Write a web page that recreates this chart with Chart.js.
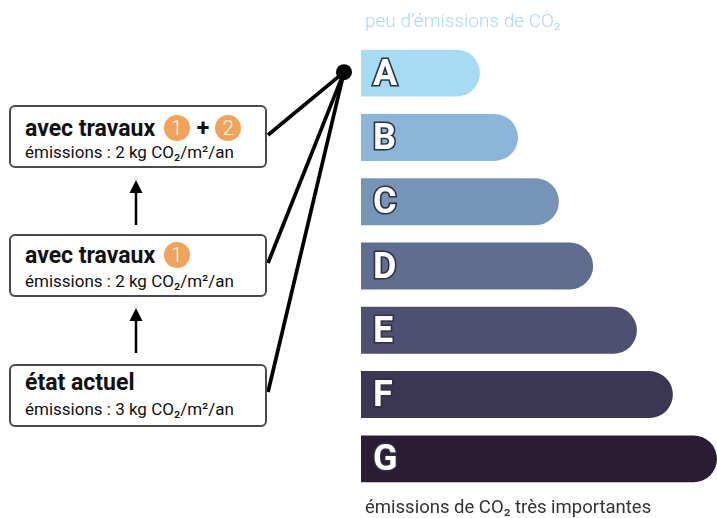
<!DOCTYPE html>
<html lang="fr">
<head>
<meta charset="utf-8">
<script src="https://cdn.jsdelivr.net/npm/chart.js@4/dist/chart.umd.min.js"></script>
<style>
  html, body { margin: 0; padding: 0; background: #fff; }
  #wrap { position: relative; width: 717px; height: 518px; overflow: hidden; font-family: Roboto, "Noto Sans", sans-serif; }
  #wrap canvas { position: absolute; left: 0; top: 0; }
  .box { position: absolute; left: 9px; width: 254px; height: 59px; border: 2px solid #4a4a4a; border-radius: 6px; background: #fff; }
  .t { position: absolute; left: 25px; white-space: nowrap; color: #111; }
  .title { font-size: 23px; line-height: 23px; font-weight: 700; }
  .sub { font-size: 17px; line-height: 17px; font-weight: 400; }
  .num { display: inline-block; width: 26px; height: 26px; border-radius: 50%; background: #f2a35a; color: #fff; font-weight: 300; font-size: 20px; line-height: 26px; text-align: center; vertical-align: 1px; margin-left: 3px; }
  .plus { display: inline-block; margin: 0 3px 0 7px; }
  .cap { position: absolute; left: 365px; white-space: nowrap; line-height: 20px; }
</style>
</head>
<body>
<div id="wrap">
  <canvas id="c" width="717" height="518"></canvas>
  <div class="cap" id="capTop" style="top:11px;color:#a9d9f1;font-weight:300;font-size:19px;"></div>
  <div class="cap" id="capBottom" style="top:497px;color:#333;font-weight:400;font-size:18.5px;"></div>
  <div class="box" style="top:105px;"></div>
  <div class="box" style="top:234px;"></div>
  <div class="box" style="top:364px;"></div>
  <div class="t title" style="top:115px;">avec travaux <span class="num">1</span><span class="plus">+</span><span class="num">2</span></div>
  <div class="t sub" style="top:144px;">émissions : 2 kg CO₂/m²/an</div>
  <div class="t title" style="top:242px;">avec travaux <span class="num">1</span></div>
  <div class="t sub" style="top:273px;">émissions : 2 kg CO₂/m²/an</div>
  <div class="t title" style="top:371px;">état actuel</div>
  <div class="t sub" style="top:401px;">émissions : 3 kg CO₂/m²/an</div>
</div>
<script>
// ---- data ----
const categories = ['A', 'B', 'C', 'D', 'E', 'F', 'G'];
const barLengths = [33.4, 44.1, 55.6, 65.2, 77.5, 87.6, 100];
const barColors = ['#a6dbf4', '#8bb6d8', '#7594b6', '#5f6e8f', '#4d5071', '#3a3653', '#2a1c35'];
const captionTop = 'peu d’émissions de CO₂';
const captionBottom = 'émissions de CO₂ très importantes';
const scenarioClass = 'A'; // all three scenarios point to class A

document.getElementById('capTop').textContent = captionTop;
document.getElementById('capBottom').textContent = captionBottom;

const connectors = {
  id: 'connectors',
  afterDraw(chart) {
    const ctx = chart.ctx;
    const ys = chart.scales.y;
    const idx = categories.indexOf(scenarioClass);
    const dotX = chart.chartArea.left - 17;
    const dotY = ys.getPixelForValue(idx) - 1;
    const starts = [[268, 135], [268, 263], [268, 392]];
    ctx.save();
    ctx.strokeStyle = '#000';
    ctx.lineWidth = 3.7;
    ctx.lineCap = 'butt';
    starts.forEach(([sx, sy]) => {
      ctx.beginPath();
      ctx.moveTo(sx, sy);
      ctx.lineTo(dotX, dotY);
      ctx.stroke();
    });
    ctx.beginPath();
    ctx.arc(dotX, dotY, 8, 0, Math.PI * 2);
    ctx.fillStyle = '#000';
    ctx.fill();
    // upward arrows between boxes
    const arrows = [[136, 225, 180], [136, 353, 308]];
    arrows.forEach(([ax, y0, y1]) => {
      ctx.beginPath();
      ctx.lineWidth = 2.5;
      ctx.moveTo(ax, y0);
      ctx.lineTo(ax, y1 + 10);
      ctx.stroke();
      ctx.beginPath();
      ctx.moveTo(ax, y1);
      ctx.lineTo(ax - 6.5, y1 + 13);
      ctx.lineTo(ax + 6.5, y1 + 13);
      ctx.closePath();
      ctx.fill();
    });
    ctx.restore();
  }
};

new Chart(document.getElementById('c'), {
  type: 'bar',
  data: {
    labels: categories,
    datasets: [{
      data: barLengths,
      backgroundColor: barColors,
      borderWidth: 0,
      borderRadius: 24,
      borderSkipped: 'start',
      barPercentage: 0.73,
      categoryPercentage: 1
    }]
  },
  options: {
    indexAxis: 'y',
    responsive: false,
    animation: false,
    layout: { padding: { left: 361, right: 0, top: 41, bottom: 27 } },
    plugins: { legend: { display: false }, tooltip: { enabled: false } },
    scales: {
      x: { display: false, min: 0, max: 100 },
      y: {
        position: 'left',
        grid: { display: false, drawTicks: false },
        border: { display: false },
        afterFit: (axis) => { axis.width = 0; axis.paddingTop = 0; axis.paddingBottom = 0; },
        ticks: {
          z: 1,
          mirror: true,
          padding: 12,
          color: '#ffffff',
          textStrokeColor: '#2f3040',
          textStrokeWidth: 3.2,
          // empty first line nudges the letter slightly down to the bar's optical centre
          callback: (value, i) => ['', categories[i]],
          font: { family: 'Roboto', weight: 'bold', size: 36, lineHeight: 0.14 }
        }
      }
    }
  },
  plugins: [connectors]
});
</script>
</body>
</html>
